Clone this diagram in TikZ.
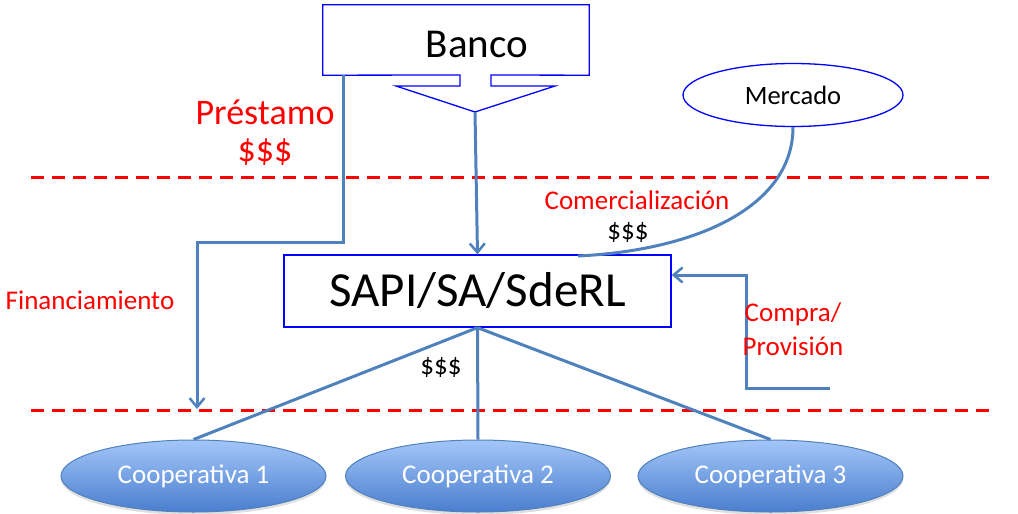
\documentclass[tikz,border=0pt]{standalone}
\usepackage{fontspec}
\setmainfont{Carlito}
\usetikzlibrary{arrows.meta,shapes.geometric,calc,shadows}
\definecolor{lineblue}{HTML}{4F81BD}
\definecolor{boxblue}{HTML}{0000FF}
\definecolor{cooptop}{HTML}{A3C6F8}
\definecolor{coopbot}{HTML}{4A7ECF}
\begin{document}
\begin{tikzpicture}[x=1pt,y=-1pt,
  conn/.style={draw=lineblue,line width=3pt},
  arr/.style={-{Straight Barb[length=9pt,width=15pt,line width=2.5pt]}},
  redash/.style={draw=red,line width=3pt,dash pattern=on 13pt off 8pt},
  boxline/.style={draw=boxblue,line width=1.3pt},
  small/.style={font=\fontsize{27}{32}\selectfont},
  redtxt/.style={text=red},
  coop/.style={ellipse,draw=lineblue,line width=1pt,top color=cooptop,bottom color=coopbot,
    minimum width=265pt,minimum height=72pt,inner sep=0pt,text=white,small,
    drop shadow={opacity=0.25,shadow xshift=0pt,shadow yshift=-3pt}},
]
\useasboundingbox (0,0) rectangle (1018,514);

% dashed separators
\coordinate (d1a) at (31,177);
\coordinate (d1b) at (996,177);
\coordinate (d2a) at (31,410);
\coordinate (d2b) at (996,410);
\draw[redash] (d1a) -- (d1b);
\draw[redash] (d2a) -- (d2b);

% Banco callout
\node[minimum width=266pt,minimum height=70pt,inner sep=0pt] (banco) at (456,40) {};
\node[font=\fontsize{41}{46}\selectfont,inner sep=0pt] (bancot) at (477,44) {Banco};
\coordinate (tip) at (475,112);
\draw[boxline] (banco.north west) -- (banco.north east) -- (banco.south east)
  -- (491,75) -- (491,86) -- (555,86) -- (tip) -- (396,86) -- (460,86) -- (460,75)
  -- (banco.south west) -- cycle;

% SAPI
\node[boxline,minimum width=387pt,minimum height=72pt,inner sep=0pt,
  font=\fontsize{49}{55}\selectfont] (sapi) at (477.5,291) {SAPI/SA/SdeRL};

% Mercado
\node[ellipse,boxline,minimum width=220pt,minimum height=63pt,inner sep=0pt,
  font=\fontsize{26.5}{31}\selectfont] (merc) at (793,95) {Mercado};

% Cooperativas
\node[coop] (c1) at (193.5,476) {Cooperativa 1};
\node[coop] (c2) at (478,476) {Cooperativa 2};
\node[coop] (c3) at (770.5,476) {Cooperativa 3};

% connectors
\draw[conn,arr] (tip) -- (sapi.north);
\coordinate (pstart) at (343,75);
\coordinate (finend) at (197,409);
\draw[conn,arr] (pstart) -- (343,242) -- (197,242) -- (finend);
\coordinate (comend) at (578,256);
\draw[conn] (merc.south) .. controls (793,205) and (700,250) .. (comend);
\coordinate (compstart) at (830,388);
\draw[conn,arr] (compstart) -- (746,388) -- (746,275) -- (sapi.east |- 746,275);
\draw[conn] (sapi.south) -- (c1.north);
\draw[conn] (sapi.south) -- (c2.north);
\draw[conn] (sapi.south) -- (c3.north);

% labels
\node[redtxt,align=center,font=\fontsize{36}{37}\selectfont] (prest) at (265,133) {Préstamo\\\$\$\$};
\node[redtxt,small] (fin) at (90,300) {Financiamiento};
\node[redtxt,small] (comer) at (637,200) {Comercialización};
\node[small] (dol1) at (628,232) {\$\$\$};
\node[small] (dol2) at (441,367) {\$\$\$};
\node[redtxt,align=center,font=\fontsize{27}{34}\selectfont] (compra) at (793,329) {Compra/\\Provisión};
\end{tikzpicture}
\end{document}
